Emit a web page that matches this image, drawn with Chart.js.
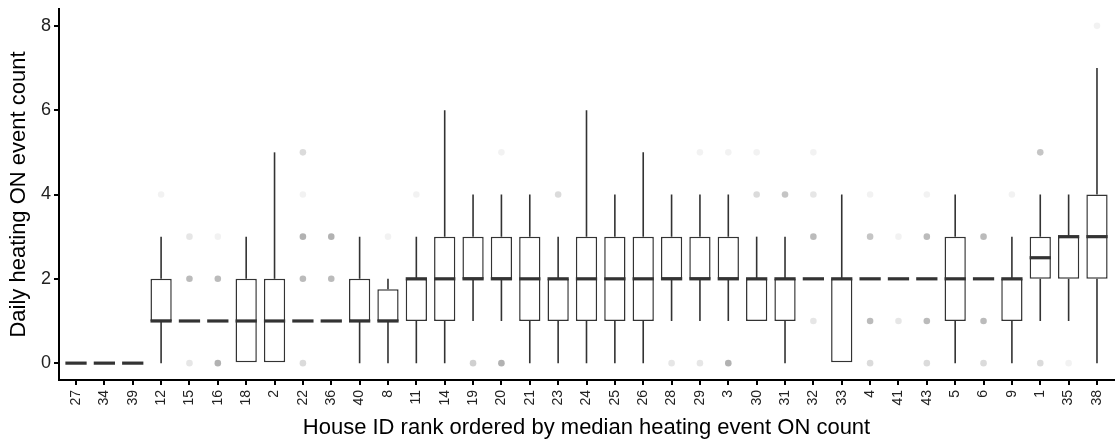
<!DOCTYPE html>
<html>
<head>
<meta charset="utf-8">
<script src="https://cdn.jsdelivr.net/npm/chart.js@4"></script>
<style>
  body { margin: 0; background: #fff; }
</style>
</head>
<body>
<canvas id="box-chart" width="1118" height="441"></canvas>
<script>
// house IDs, ordered by median daily heating ON count
const houseIds = ["27","34","39","12","15","16","18","2","22","36","40","8","11","14","19","20","21","23","24","25","26","28","29","3","30","31","32","33","4","41","43","5","6","9","1","35","38"];

// box stats per house
const whiskerLow  = [0,0,0,0,1,1,0,0,1,1,0,0,0,0,1,1,0,0,0,0,0,1,1,1,1,0,2,0,2,2,2,0,2,0,1,1,0];
const q1          = [0,0,0,1,1,1,0,0,1,1,1,1,1,1,2,2,1,1,1,1,1,2,2,2,1,1,2,0,2,2,2,1,2,1,2,2,2];
const medians     = [0,0,0,1,1,1,1,1,1,1,1,1,2,2,2,2,2,2,2,2,2,2,2,2,2,2,2,2,2,2,2,2,2,2,2.5,3,3];
const q3          = [0,0,0,2,1,1,2,2,1,1,2,1.75,2,3,3,3,3,2,3,3,3,3,3,3,2,2,2,2,2,2,2,3,2,2,3,3,4];
const whiskerHigh = [0,0,0,3,1,1,3,5,1,1,3,2,3,6,4,4,4,3,6,4,5,4,4,4,3,3,2,4,2,2,2,4,2,3,4,4,7];

// outliers per house as [value, number of days] (overlapping points look darker)
const outliers = [
  [],[],[],
  [[4,1]],
  [[3,2],[2,6],[0,2]],
  [[3,1],[2,6],[0,7]],
  [],[],
  [[5,3],[4,1],[3,7],[2,6],[0,3]],
  [[3,7],[2,6]],
  [],
  [[3,1]],
  [[4,1]],
  [],
  [[0,4]],
  [[5,1],[0,7]],
  [],
  [[4,3]],
  [],[],[],
  [[0,2]],
  [[5,1],[0,2]],
  [[5,1],[0,7]],
  [[5,1],[4,3]],
  [[4,5]],
  [[5,1],[4,2],[3,6],[1,2]],
  [],
  [[4,1],[3,5],[1,6],[0,3]],
  [[3,1],[1,2]],
  [[4,1],[3,6],[1,6],[0,3]],
  [],
  [[3,6],[1,6],[0,3]],
  [[4,1]],
  [[5,5],[0,3]],
  [[0,1]],
  [[8,1]]
];

const yTicks = [0, 2, 4, 6, 8];

const lineColor = "#333333";
const font = "'Liberation Sans', Arial, sans-serif";

const outlierPoints = [];
const outlierColors = [];
outliers.forEach(function (list, i) {
  list.forEach(function (o) {
    outlierPoints.push({ x: i, y: o[0] });
    const a = 1 - Math.pow(0.95, o[1]);
    outlierColors.push("rgba(0,0,0," + a.toFixed(3) + ")");
  });
});

// whiskers + median lines, drawn from the scales
const boxExtras = {
  id: "boxExtras",
  afterDatasetsDraw(chart) {
    const ctx = chart.ctx;
    const x = chart.scales.x, y = chart.scales.y;
    const bars = chart.getDatasetMeta(0).data;
    ctx.save();
    ctx.strokeStyle = lineColor;
    houseIds.forEach(function (id, i) {
      const cx = x.getPixelForValue(i);
      const half = bars[i].width / 2;
      ctx.lineWidth = 1.6;
      ctx.beginPath();
      if (whiskerHigh[i] > q3[i]) {
        ctx.moveTo(cx, y.getPixelForValue(q3[i]));
        ctx.lineTo(cx, y.getPixelForValue(whiskerHigh[i]));
      }
      if (whiskerLow[i] < q1[i]) {
        ctx.moveTo(cx, y.getPixelForValue(q1[i]));
        ctx.lineTo(cx, y.getPixelForValue(whiskerLow[i]));
      }
      ctx.stroke();
      ctx.lineWidth = 3.2;
      ctx.beginPath();
      const my = y.getPixelForValue(medians[i]);
      ctx.moveTo(cx - half, my);
      ctx.lineTo(cx + half, my);
      ctx.stroke();
    });
    ctx.restore();
  }
};

new Chart(document.getElementById("box-chart"), {
  type: "bar",
  data: {
    datasets: [
      {
        label: "box",
        data: houseIds.map(function (id, i) { return { x: i, y: [q1[i], q3[i]] }; }),
        backgroundColor: "#ffffff",
        borderColor: lineColor,
        borderWidth: 1.5,
        borderSkipped: false,
        barPercentage: 0.75,
        categoryPercentage: 1.0
      },
      {
        type: "scatter",
        label: "outliers",
        data: outlierPoints,
        pointBackgroundColor: outlierColors,
        pointBorderWidth: 0,
        pointRadius: 3.3,
        showLine: false
      }
    ]
  },
  options: {
    responsive: false,
    animation: false,
    layout: { padding: { top: 9, right: -3, left: 0, bottom: 0 } },
    plugins: {
      legend: { display: false },
      tooltip: { enabled: false }
    },
    scales: {
      x: {
        type: "linear",
        offset: false,
        min: -0.6,
        max: houseIds.length - 0.4,
        afterBuildTicks: function (scale) {
          scale.ticks = houseIds.map(function (id, i) { return { value: i }; });
        },
        afterFit: function (scale) {
          scale.height = 61;
          scale.paddingLeft = 0;
          scale.paddingRight = 0;
        },
        ticks: {
          autoSkip: false,
          maxRotation: 90,
          minRotation: 90,
          padding: 5,
          color: "#222",
          font: { family: font, size: 14 },
          callback: function (v) { return houseIds[v]; }
        },
        grid: { offset: false, drawOnChartArea: false, drawTicks: true, tickLength: 5, lineWidth: 2, color: "#000" },
        border: { display: true, color: "#000", width: 2 },
        title: {
          display: true,
          text: "House ID rank ordered by median heating event ON count",
          color: "#000",
          font: { family: font, size: 22 },
          padding: { top: 0, bottom: 0 }
        }
      },
      y: {
        min: -0.4,
        max: 8.4,
        afterBuildTicks: function (scale) {
          scale.ticks = yTicks.map(function (v) { return { value: v }; });
        },
        afterFit: function (scale) {
          scale.width = 59;
          scale.paddingTop = 0;
          scale.paddingBottom = 0;
        },
        ticks: {
          padding: 3,
          color: "#222",
          font: { family: font, size: 18 }
        },
        grid: { drawOnChartArea: false, drawTicks: true, tickLength: 5, lineWidth: 2, color: "#000" },
        border: { display: true, color: "#000", width: 2 },
        title: {
          display: true,
          text: "Daily heating ON event count",
          color: "#000",
          font: { family: font, size: 22 },
          padding: { top: 6, bottom: 0 }
        }
      }
    }
  },
  plugins: [boxExtras]
});
</script>
</body>
</html>
